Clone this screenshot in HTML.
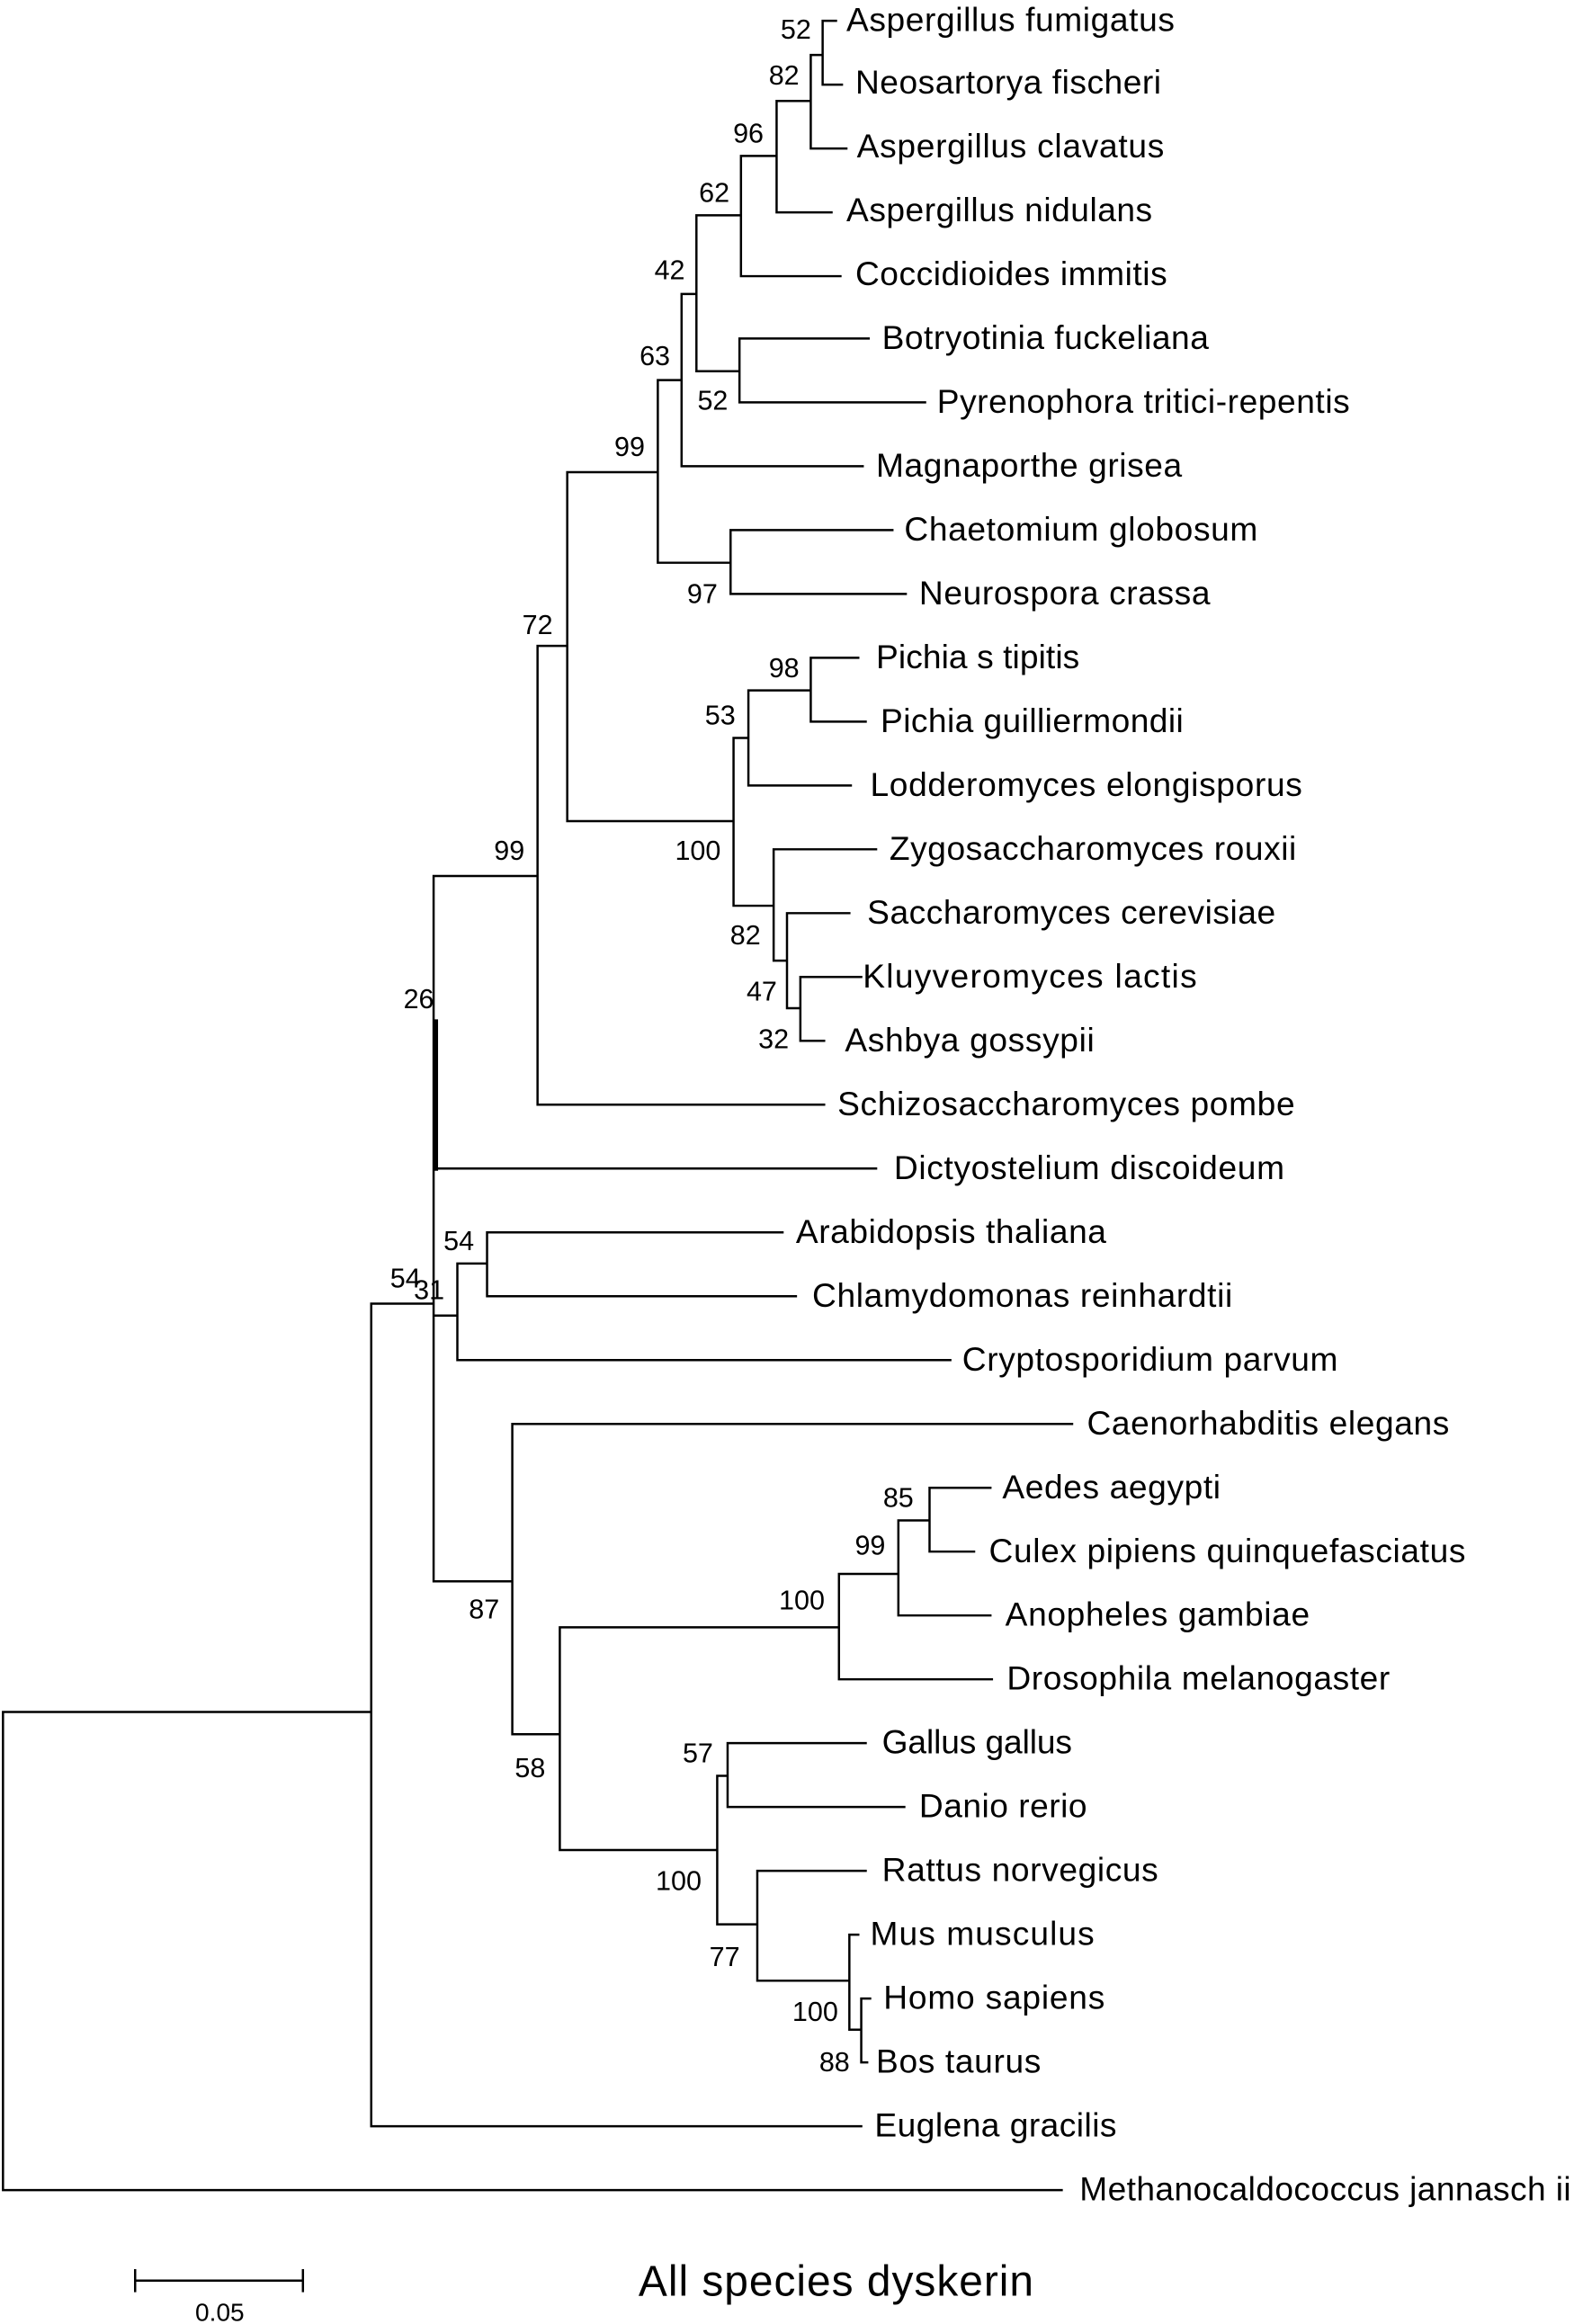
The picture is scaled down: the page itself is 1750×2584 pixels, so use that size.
<!DOCTYPE html>
<html><head><meta charset="utf-8"><style>
html,body{margin:0;padding:0;background:#fff;}
svg{display:block;}
text{font-family:"Liberation Sans",sans-serif;fill:#000;}
.l{font-size:22.5px;}
.b{font-size:18.5px;text-anchor:middle;}
</style></head><body>
<svg width="1750" height="2584" viewBox="0 0 1060 1565.2" xmlns="http://www.w3.org/2000/svg">
<g stroke="#000" stroke-width="1.5" fill="none" stroke-linecap="square">
<path d="
M2 1153V1475H715 M2 1153H250
M250 878V1432H580 M250 878H292
M292 590V1065 M292 590H362 M292 787H590
M292 886H308 M308 851V916 M308 916H640 M308 851H328 M328 830V873 M328 830H527 M328 873H536
M292 1065H345 M345 959V1168 M345 959H722 M345 1168H377
M377 1096V1246 M377 1096H565 M565 1060V1131 M565 1131H668 M565 1060H605
M605 1024V1088 M605 1088H667 M605 1024H626 M626 1002V1045 M626 1002H667 M626 1045H656
M377 1246H483 M483 1196V1296 M483 1196H490 M490 1174V1217 M490 1174H583 M490 1217H609
M483 1296H510 M510 1260V1334 M510 1260H583 M510 1334H572 M572 1303V1367 M572 1303H578 M572 1367H580
M580 1346V1389 M580 1346H586 M580 1389H584
M362 435V744 M362 744H555 M362 435H382
M382 318V553 M382 553H494 M494 497V610 M494 497H504 M504 465V529 M504 529H573 M504 465H546
M546 443V486 M546 443H578 M546 486H583
M494 610H521 M521 572V647 M521 572H590 M521 647H530 M530 615V679 M530 615H572 M530 679H539
M539 658V701 M539 658H580 M539 701H555
M382 318H443 M443 256V379 M443 379H492 M492 357V400 M492 357H601 M492 400H610
M443 256H459 M459 198V314 M459 314H581 M459 198H469
M469 145V250 M469 250H498 M498 228V271 M498 228H585 M498 271H623
M469 145H499 M499 105V186 M499 186H566 M499 105H523
M523 68V143 M523 143H560 M523 68H546 M546 37V100 M546 100H570 M546 37H554
M554 14V57 M554 14H563 M554 57H567
M91 1536H204 M91 1529V1543 M204 1529V1543
"/>
<path d="M293.5 688V787" stroke-width="3"/>
</g>
<g class="l">
<text x="570" y="21" textLength="221">Aspergillus fumigatus</text>
<text x="576" y="63" textLength="206">Neosartorya fischeri</text>
<text x="577" y="106" textLength="207">Aspergillus clavatus</text>
<text x="570" y="149" textLength="206">Aspergillus nidulans</text>
<text x="576" y="192" textLength="210">Coccidioides immitis</text>
<text x="594" y="235" textLength="220">Botryotinia fuckeliana</text>
<text x="631" y="278" textLength="278">Pyrenophora tritici-repentis</text>
<text x="590" y="321" textLength="206">Magnaporthe grisea</text>
<text x="609" y="364" textLength="238">Chaetomium globosum</text>
<text x="619" y="407" textLength="196">Neurospora crassa</text>
<text x="590" y="450" textLength="137">Pichia s tipitis</text>
<text x="593" y="493" textLength="204">Pichia guilliermondii</text>
<text x="586" y="536" textLength="291">Lodderomyces elongisporus</text>
<text x="599" y="579" textLength="274">Zygosaccharomyces rouxii</text>
<text x="584" y="622" textLength="275">Saccharomyces cerevisiae</text>
<text x="581" y="665" textLength="225">Kluyveromyces lactis</text>
<text x="569" y="708" textLength="168">Ashbya gossypii</text>
<text x="564" y="751" textLength="308">Schizosaccharomyces pombe</text>
<text x="602" y="794" textLength="263">Dictyostelium discoideum</text>
<text x="536" y="837" textLength="209">Arabidopsis thaliana</text>
<text x="547" y="880" textLength="283">Chlamydomonas reinhardtii</text>
<text x="648" y="923" textLength="253">Cryptosporidium parvum</text>
<text x="732" y="966" textLength="244">Caenorhabditis elegans</text>
<text x="675" y="1009" textLength="147">Aedes aegypti</text>
<text x="666" y="1052" textLength="321">Culex pipiens quinquefasciatus</text>
<text x="677" y="1095" textLength="205">Anopheles gambiae</text>
<text x="678" y="1138" textLength="258">Drosophila melanogaster</text>
<text x="594" y="1181" textLength="128">Gallus gallus</text>
<text x="619" y="1224" textLength="113">Danio rerio</text>
<text x="594" y="1267" textLength="186">Rattus norvegicus</text>
<text x="586" y="1310" textLength="151">Mus musculus</text>
<text x="595" y="1353" textLength="149">Homo sapiens</text>
<text x="590" y="1396" textLength="111">Bos taurus</text>
<text x="589" y="1439" textLength="163">Euglena gracilis</text>
<text x="727" y="1482" textLength="331">Methanocaldococcus jannasch ii</text>
</g>
<g class="b">
<text x="536" y="26">52</text><text x="528" y="57">82</text><text x="504" y="96">96</text>
<text x="481" y="136">62</text><text x="451" y="188">42</text><text x="441" y="246">63</text>
<text x="480" y="276">52</text><text x="424" y="307">99</text><text x="473" y="406">97</text>
<text x="362" y="427">72</text><text x="528" y="456">98</text><text x="485" y="488">53</text>
<text x="470" y="579">100</text><text x="502" y="636">82</text><text x="513" y="674">47</text>
<text x="521" y="706">32</text><text x="343" y="579">99</text><text x="282" y="679">26</text>
<text x="309" y="842">54</text><text x="273" y="867">54</text><text x="289" y="875">31</text>
<text x="326" y="1090">87</text><text x="605" y="1015">85</text><text x="586" y="1047">99</text>
<text x="540" y="1084">100</text><text x="357" y="1197">58</text><text x="470" y="1187">57</text>
<text x="457" y="1273">100</text><text x="488" y="1324">77</text><text x="549" y="1361">100</text>
<text x="562" y="1395">88</text>
<text x="148" y="1563" style="font-size:17px">0.05</text>
</g>
<text x="563" y="1546" style="font-size:29px;text-anchor:middle" textLength="266">All species dyskerin</text>
</svg>
</body></html>
